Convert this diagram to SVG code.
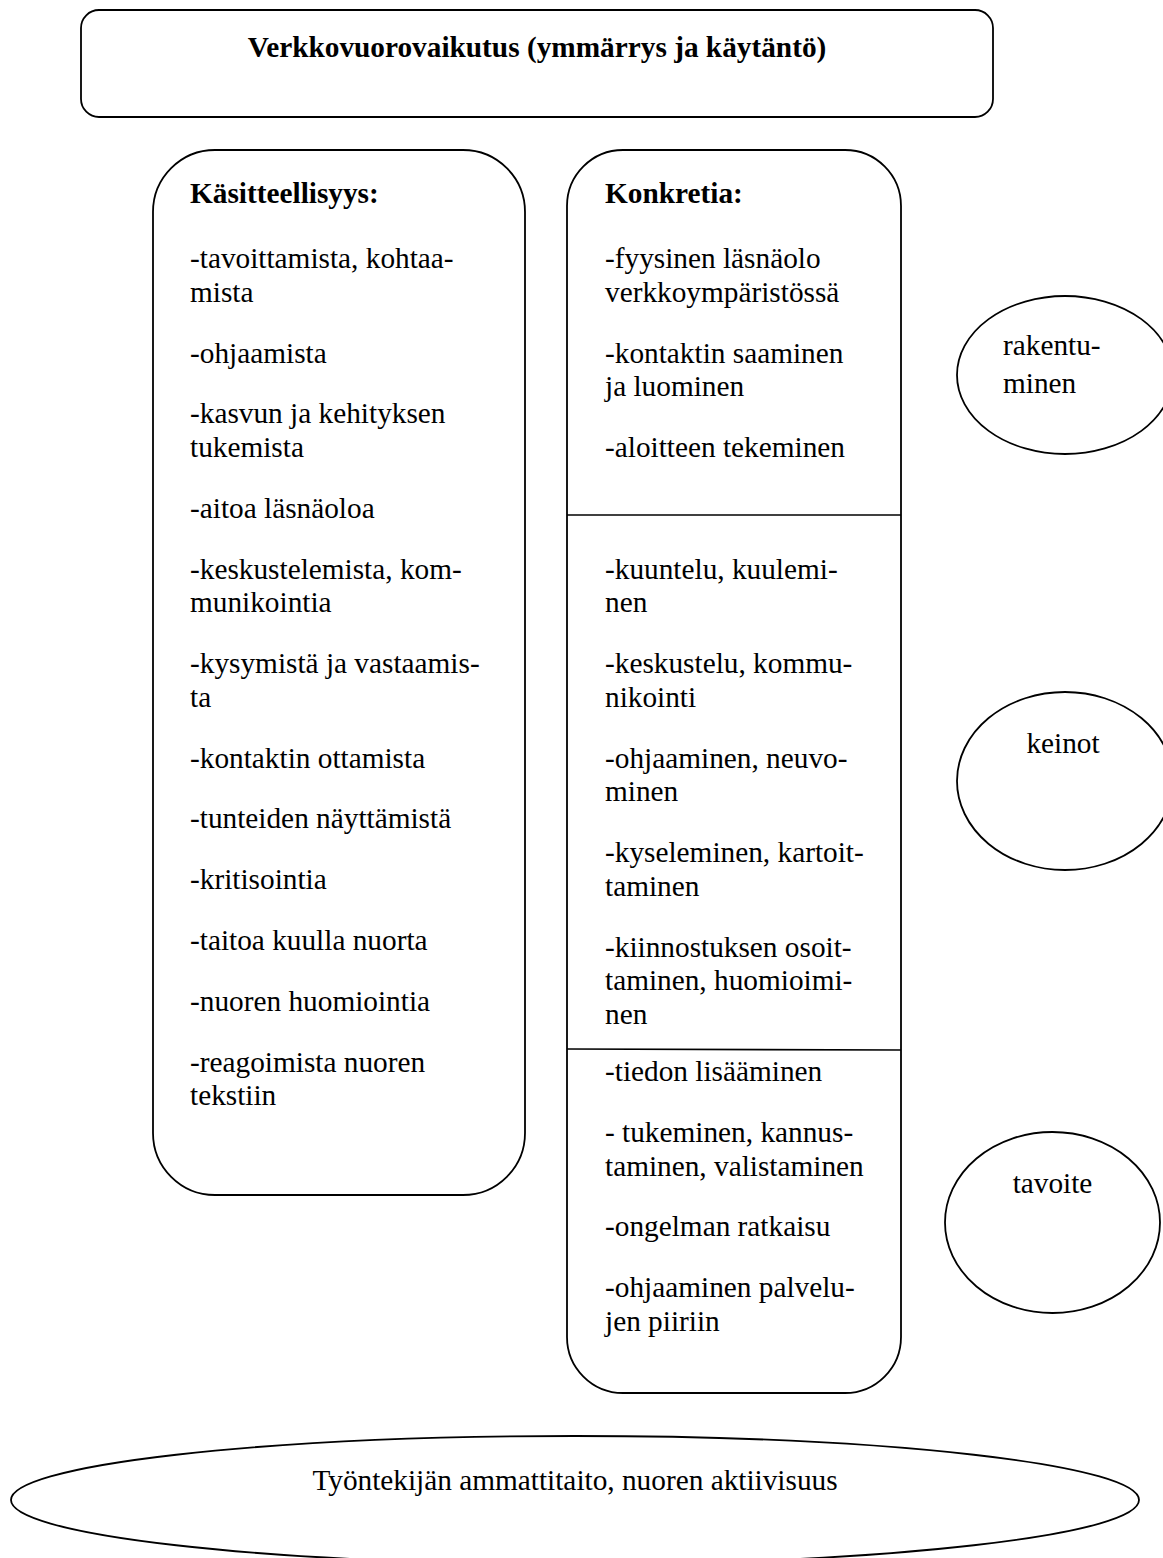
<svg xmlns="http://www.w3.org/2000/svg" width="1163" height="1558" viewBox="0 0 1163 1558">
<style>
.shape{fill:#fff;stroke:#000;stroke-width:1.8}
.line{stroke:#000;stroke-width:1.6;fill:none}
text{font-family:"Liberation Serif","Times New Roman",serif;font-size:29.3px;fill:#000}
.b{font-weight:bold}
.c{text-anchor:middle}
</style>
<rect width="1163" height="1558" fill="#fff"/>
<g id="title-box">
<rect class="shape" x="81" y="10" width="912" height="107" rx="18" ry="18"/>
<text class="b c" x="537" y="57">Verkkovuorovaikutus (ymmärrys ja käytäntö)</text>
</g>
<g id="kasitteellisyys">
<rect class="shape" x="153" y="150" width="372" height="1045" rx="62" ry="62"/>
<text class="b" x="190" y="203">Käsitteellisyys:</text>
<text x="190" y="268">-tavoittamista, kohtaa-</text>
<text x="190" y="301.7">mista</text>
<text x="190" y="362.5">-ohjaamista</text>
<text x="190" y="423.3">-kasvun ja kehityksen</text>
<text x="190" y="457">tukemista</text>
<text x="190" y="517.8">-aitoa läsnäoloa</text>
<text x="190" y="578.6">-keskustelemista, kom-</text>
<text x="190" y="612.3">munikointia</text>
<text x="190" y="673.1">-kysymistä ja vastaamis-</text>
<text x="190" y="706.8">ta</text>
<text x="190" y="767.6">-kontaktin ottamista</text>
<text x="190" y="828.4">-tunteiden näyttämistä</text>
<text x="190" y="889.2">-kritisointia</text>
<text x="190" y="950">-taitoa kuulla nuorta</text>
<text x="190" y="1010.8">-nuoren huomiointia</text>
<text x="190" y="1071.6">-reagoimista nuoren</text>
<text x="190" y="1105.3">tekstiin</text>
</g>
<g id="konkretia">
<rect class="shape" x="567" y="150" width="334" height="1243" rx="56" ry="56"/>
<text class="b" x="605" y="203">Konkretia:</text>
<text x="605" y="268">-fyysinen läsnäolo</text>
<text x="605" y="301.7">verkkoympäristössä</text>
<text x="605" y="362.5">-kontaktin saaminen</text>
<text x="605" y="396.2">ja luominen</text>
<text x="605" y="457">-aloitteen tekeminen</text>
<text x="605" y="578.6">-kuuntelu, kuulemi-</text>
<text x="605" y="612.3">nen</text>
<text x="605" y="673.1">-keskustelu, kommu-</text>
<text x="605" y="706.8">nikointi</text>
<text x="605" y="767.6">-ohjaaminen, neuvo-</text>
<text x="605" y="801.3">minen</text>
<text x="605" y="862.1">-kyseleminen, kartoit-</text>
<text x="605" y="895.8">taminen</text>
<text x="605" y="956.6">-kiinnostuksen osoit-</text>
<text x="605" y="990.3">taminen, huomioimi-</text>
<text x="605" y="1024">nen</text>
<text x="605" y="1081">-tiedon lisääminen</text>
<text x="605" y="1141.8">- tukeminen, kannus-</text>
<text x="605" y="1175.5">taminen, valistaminen</text>
<text x="605" y="1236.3">-ongelman ratkaisu</text>
<text x="605" y="1297.1">-ohjaaminen palvelu-</text>
<text x="605" y="1330.8">jen piiriin</text>
</g>
<g id="connectors">
<line class="line" x1="567" y1="515" x2="901" y2="515"/>
<line class="line" x1="567" y1="1049" x2="901" y2="1050"/>
</g>
<g id="rakentuminen">
<ellipse class="shape" cx="1065" cy="375" rx="108" ry="79"/>
<text x="1003" y="355">rakentu-</text>
<text x="1003" y="393">minen</text>
</g>
<g id="keinot">
<ellipse class="shape" cx="1065" cy="781" rx="108" ry="89"/>
<text class="c" x="1063" y="753">keinot</text>
</g>
<g id="tavoite">
<ellipse class="shape" cx="1052.5" cy="1222.5" rx="107.5" ry="90.5"/>
<text class="c" x="1052.5" y="1193">tavoite</text>
</g>
<g id="ammattitaito">
<ellipse class="shape" cx="575" cy="1500" rx="564" ry="64"/>
<text class="c" x="575" y="1490">Työntekijän ammattitaito, nuoren aktiivisuus</text>
</g>
</svg>
